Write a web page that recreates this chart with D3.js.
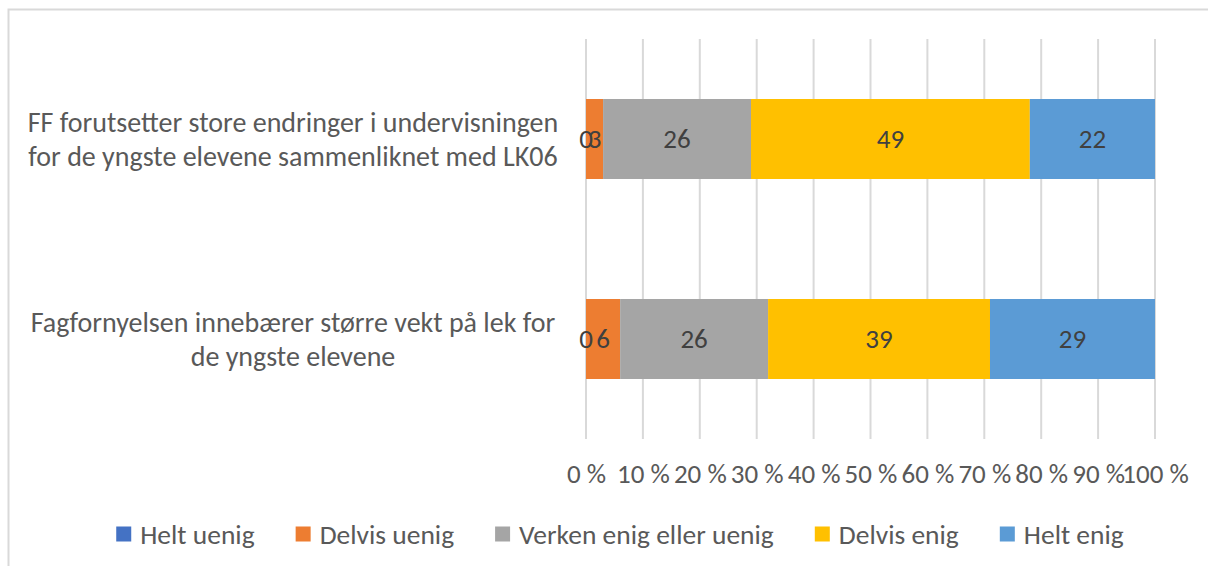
<!DOCTYPE html>
<html>
<head>
<meta charset="utf-8">
<script src="https://cdn.jsdelivr.net/npm/d3@7/dist/d3.min.js"></script>
<style>
  html, body { margin: 0; padding: 0; background: #fff; }
  svg { display: block; }
  text { font-family: Carlito, Calibri, Lato, sans-serif; }
</style>
</head>
<body>
<svg id="chart" width="1208" height="566"></svg>
<script>
// Survey statements (categories), top to bottom
const categories = [
  "FF forutsetter store endringer i undervisningen for de yngste elevene sammenliknet med LK06",
  "Fagfornyelsen innebærer større vekt på lek for de yngste elevene"
];

// Response categories, in stacking order
const seriesNames = ["Helt uenig", "Delvis uenig", "Verken enig eller uenig", "Delvis enig", "Helt enig"];
const seriesColors = ["#4472C4", "#ED7D31", "#A5A5A5", "#FFC000", "#5B9BD5"];

// Percent of respondents per statement
const heltUenig   = [0, 0];
const delvisUenig = [3, 6];
const verken      = [26, 26];
const delvisEnig  = [49, 39];
const heltEnig    = [22, 29];

const xTicks = [0, 10, 20, 30, 40, 50, 60, 70, 80, 90, 100];
const xTickLabels = ["0 %", "10 %", "20 %", "30 %", "40 %", "50 %", "60 %", "70 %", "80 %", "90 %", "100 %"];

const seriesValues = [heltUenig, delvisUenig, verken, delvisEnig, heltEnig];
const rows = categories.map((c, i) => {
  const r = { category: c };
  seriesNames.forEach((s, j) => { r[s] = seriesValues[j][i]; });
  return r;
});

const svg = d3.select("#chart");
const W = 1208, H = 566;
const catFont = 28;
const fontSize = 27;
const legendFont = 27.5;

// Chart area frame
svg.append("rect")
  .attr("x", 8.5).attr("y", 9.5)
  .attr("width", W + 20).attr("height", H + 20)
  .attr("fill", "#fff")
  .attr("stroke", "#d9d9d9").attr("stroke-width", 2);

const plot = { left: 586, right: 1155, top: 39, bottom: 439 };

const x = d3.scaleLinear().domain([0, 100]).range([plot.left, plot.right]);
const y = d3.scaleBand().domain(categories)
  .range([plot.top, plot.bottom])
  .paddingInner(0.6).paddingOuter(0.3);

// Vertical gridlines
svg.append("g")
  .selectAll("line")
  .data(xTicks)
  .join("line")
  .attr("x1", d => x(d)).attr("x2", d => x(d))
  .attr("y1", plot.top).attr("y2", plot.bottom)
  .attr("stroke", "#d9d9d9").attr("stroke-width", 2);

// Stacked bars
const stack = d3.stack().keys(seriesNames);
const layers = stack(rows);

svg.append("g")
  .selectAll("g")
  .data(layers)
  .join("g")
  .attr("fill", (d, i) => seriesColors[i])
  .selectAll("rect")
  .data(d => d)
  .join("rect")
  .attr("x", d => x(d[0]))
  .attr("width", d => x(d[1]) - x(d[0]))
  .attr("y", d => y(d.data.category))
  .attr("height", y.bandwidth());

// Value labels in each segment, drawn above all bars
svg.append("g")
  .selectAll("g")
  .data(layers)
  .join("g")
  .selectAll("text")
  .data(d => d.map(v => ({ v, key: d.key })))
  .join("text")
  .attr("x", d => (x(d.v[0]) + x(d.v[1])) / 2)
  .attr("y", d => y(d.v.data.category) + y.bandwidth() / 2)
  .attr("dy", "0.35em")
  .attr("text-anchor", "middle")
  .attr("fill", "#404040")
  .attr("font-size", fontSize)
  .text(d => d.v.data[d.key]);

// X axis tick labels
const xAxis = d3.axisBottom(x)
  .tickValues(xTicks)
  .tickFormat((d, i) => xTickLabels[i])
  .tickSize(0)
  .tickPadding(0);
const gx = svg.append("g")
  .attr("transform", `translate(0, ${plot.bottom + 25})`)
  .call(xAxis);
gx.select(".domain").remove();
gx.selectAll("text")
  .attr("font-size", fontSize)
  .attr("font-family", null)
  .attr("fill", "#595959");

// Category labels, wrapped and centred left of the plot
const catCenterX = 293;
const catLine = 34;
const maxCatWidth = 550;
const gCats = svg.append("g");
categories.forEach(cat => {
  const words = cat.split(" ");
  const t = gCats.append("text")
    .attr("text-anchor", "middle")
    .attr("font-size", catFont)
    .attr("fill", "#595959");
  const lines = [];
  let line = [];
  const probe = t.append("tspan");
  words.forEach(w => {
    const trial = line.concat([w]).join(" ");
    probe.text(trial);
    if (probe.node().getComputedTextLength() > maxCatWidth && line.length) {
      lines.push(line.join(" "));
      line = [w];
    } else {
      line.push(w);
    }
  });
  lines.push(line.join(" "));
  probe.remove();
  const cy = y(cat) + y.bandwidth() / 2;
  const y0 = cy - (lines.length - 1) * catLine / 2;
  lines.forEach((l, i) => {
    t.append("tspan")
      .attr("x", catCenterX)
      .attr("y", y0 + i * catLine)
      .attr("dy", "0.35em")
      .text(l);
  });
});

// Legend, centred under the plot
const legendY = 534;
const sw = 15, swGap = 9, itemGap = 41;
const gLeg = svg.append("g");
const items = seriesNames.map((name, i) => {
  const g = gLeg.append("g");
  g.append("rect")
    .attr("width", sw).attr("height", sw)
    .attr("y", legendY - sw / 2)
    .attr("fill", seriesColors[i]);
  const t = g.append("text")
    .attr("x", sw + swGap)
    .attr("y", legendY)
    .attr("dy", "0.35em")
    .attr("font-size", legendFont)
    .attr("fill", "#595959")
    .text(name);
  return { g, w: sw + swGap + t.node().getComputedTextLength() };
});
const totalW = d3.sum(items, d => d.w) + itemGap * (items.length - 1);
let cx = 620 - totalW / 2;
items.forEach(it => {
  it.g.attr("transform", `translate(${cx},0)`);
  cx += it.w + itemGap;
});
</script>
</body>
</html>
